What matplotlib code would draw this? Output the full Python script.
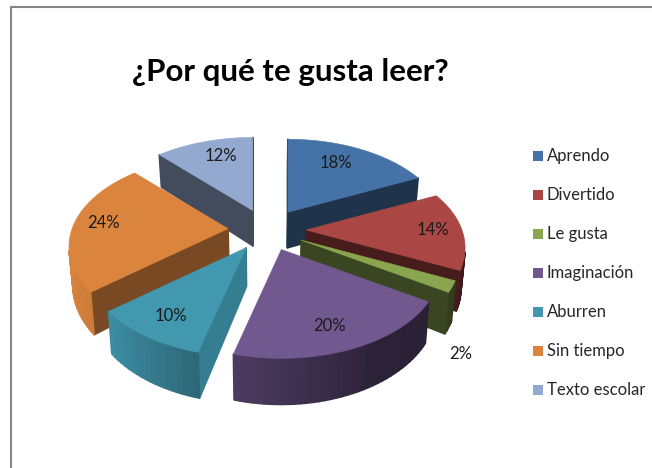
import numpy as np
import matplotlib
matplotlib.use("Agg")
import matplotlib.pyplot as plt
from matplotlib.patches import Polygon, Rectangle

labels = ["Aprendo", "Divertido", "Le gusta", "Imaginación", "Aburren", "Sin tiempo", "Texto escolar"]
values = [18, 14, 2, 20, 10, 24, 12]
colors = ["#4573a7", "#aa4643", "#89a54e", "#71588f", "#4198af", "#db843d", "#93a9cf"]
wall_shade = [0.45, 0.42, 0.42, 0.5, 0.82, 0.55, 0.45]
label_pos = [(336, 163), (433, 230), (461, 354), (329, 326), (171, 316), (103, 223), (221, 156)]
draw_order = [6, 0, 5, 1, 2, 4, 3]

# pie geometry, in pixels
cx, cy = 267, 230
ex, ey = 39, 21
Rx, Ry, k = 156, 87.4, 0.197
depth = 37


def scale(v):
    return 1 / (1 + k * v)


def shade(c, f):
    return tuple(np.array(matplotlib.colors.to_rgb(c)) * f)


def rim_shade(u):
    return np.interp(u, [-1, -0.77, -0.25, 0.5, 1], [1.0, 0.93, 0.68, 0.39, 0.36])


def lower(p, v):
    return (cx + (p[0] - cx) * 0.98, p[1] + depth * scale(v))


plt.rcParams["font.family"] = ["Lato", "DejaVu Sans"]
fig = plt.figure(figsize=(6.52, 4.68), dpi=100)
ax = fig.add_axes([0, 0, 1, 1])
ax.set_xlim(0, 652)
ax.set_ylim(468, 0)
ax.axis("off")

ax.add_patch(Rectangle((10.5, 6.5), 700, 500, fc="white", ec="#868686", lw=1.5))

edges = np.cumsum([0] + values) / sum(values) * 2 * np.pi

for order, i in enumerate(draw_order):
    z = 2 + order
    t0, t1 = edges[i], edges[i + 1]
    tm = (t0 + t1) / 2
    ax_x = cx + ex * np.sin(tm)
    ax_y = cy - ey * np.cos(tm)
    th = np.linspace(t0, t1, max(int(values[i] * 2), 6))
    u, v = np.sin(th), np.cos(th)
    s = scale(v)
    rim = np.column_stack((ax_x + Rx * u * s, ax_y - Ry * v * s))
    av = 0.25 * np.cos(tm)

    # walls: the boundary is walked clockwise, only edges facing us are kept
    path = [(ax_x, ax_y)] + [tuple(p) for p in rim] + [(ax_x, ax_y)]
    pv = [av] + list(v) + [av]
    for j in range(len(path) - 1):
        a, b = path[j], path[j + 1]
        quad = [a, b, lower(b, pv[j + 1]), lower(a, pv[j])]
        q = np.array(quad)
        area = np.sum(q[:, 0] * np.roll(q[:, 1], -1) - np.roll(q[:, 0], -1) * q[:, 1])
        if area >= 0:
            continue
        if j == 0 or j == len(path) - 2:
            col = shade(colors[i], wall_shade[i])
        else:
            col = shade(colors[i], rim_shade((u[j - 1] + u[j]) / 2))
        # wide edge hides the seams between rim pieces
        ax.add_patch(Polygon(quad, closed=True, fc=col, ec=col, lw=1.2, joinstyle="round", zorder=z))
    ax.add_patch(Polygon(path[:-1], closed=True, fc=colors[i], ec=colors[i], lw=0.4, zorder=z))

for val, pos in zip(values, label_pos):
    ax.text(pos[0], pos[1], "%d%%" % val, fontsize=12, color="#1a1a1a", ha="center", va="center", zorder=20)

ax.text(290, 72, "¿Por qué te gusta leer?", fontsize=22.5, fontweight="bold", color="black",
        ha="center", va="center", zorder=20)

for n, name in enumerate(labels):
    y = 156 + n * 39
    ax.add_patch(Rectangle((533, y - 5), 10, 10, fc=colors[n], ec="none", zorder=20))
    ax.text(547, y, name, fontsize=12, color="#262626", ha="left", va="center", zorder=20)

fig.savefig("out.png", dpi=100)
